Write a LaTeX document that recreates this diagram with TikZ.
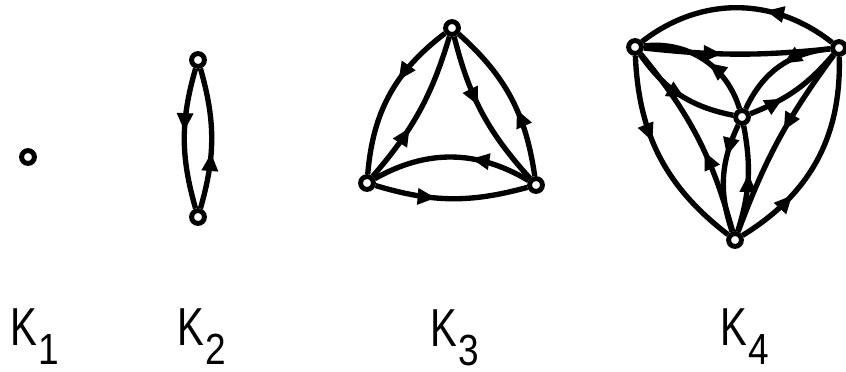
\documentclass[tikz,border=0pt]{standalone}
\usepackage{fontspec}
\setmainfont{Liberation Sans}
\usepackage{graphicx}
\usetikzlibrary{arrows.meta, decorations.markings}

% label K_n: narrow K, lowered index
\newcommand{\klab}[1]{\scalebox{0.75}[1]{K}\kern1pt\raisebox{-14pt}{\fontsize{31}{31}\selectfont\scalebox{0.85}[1]{#1}}}

\begin{document}
\begin{tikzpicture}[
    x=0.025cm, y=0.025cm,
    vertex/.style={
        circle, draw, fill=white, line width=3.5pt,
        minimum size=0.32cm, inner sep=0pt
    },
    edge/.style={line width=3.8pt},
    midarrow/.style={postaction={decorate, decoration={markings,
        mark=at position #1 with {\arrow{Triangle[length=13pt,width=11pt]}}}}},
    midarrow/.default=0.45,
    klabel/.style={anchor=base west, inner sep=0pt, font=\fontsize{38}{38}\selectfont}
]
\useasboundingbox (0,0) rectangle (846,-371);

% K1
\node[vertex] (k1v) at (28,-157) {};

% K2
\node[vertex] (k2top) at (198,-60)  {};
\node[vertex] (k2bot) at (198,-217) {};
\draw[edge, midarrow=0.45] (k2top) to[bend right=16] (k2bot);
\draw[edge, midarrow=0.4]  (k2bot) to[bend right=16] (k2top);

% K3
\node[vertex] (k3top)   at (452,-28)  {};
\node[vertex] (k3left)  at (367,-183) {};
\node[vertex] (k3right) at (536,-185) {};
\draw[edge, midarrow=0.4]  (k3top)   to[bend right=24] (k3left);
\draw[edge, midarrow=0.38] (k3left)  to[bend right=12] (k3top);
\draw[edge, midarrow=0.45] (k3top)   to[bend right=14] (k3right);
\draw[edge, midarrow=0.42] (k3right) to[bend right=20] (k3top);
\draw[edge, midarrow=0.38] (k3right) to[bend right=30] (k3left);
\draw[edge, midarrow=0.4]  (k3left)  to[bend right=16] (k3right);

% K4
\node[vertex] (k4left)  at (635,-47)  {};
\node[vertex] (k4right) at (839,-48)  {};
\node[vertex] (k4mid)   at (742,-117) {};
\node[vertex] (k4bot)   at (735,-240) {};
\draw[edge, midarrow=0.36] (k4right) to[bend right=38] (k4left);
\draw[edge, midarrow=0.42] (k4left)  to[bend right=6]  (k4right);
\draw[edge, midarrow=0.45] (k4mid)   to[bend right=40] (k4left);
\draw[edge, midarrow=0.55] (k4left)  to[bend right=22] (k4mid);
\draw[edge, midarrow=0.45] (k4right) to[bend right=30] (k4mid);
\draw[edge, midarrow=0.35] (k4mid)   to[bend right=14] (k4right);
\draw[edge, midarrow=0.3]  (k4mid)   to[bend right=22] (k4bot);
\draw[edge, midarrow=0.55] (k4bot)   to[bend right=14] (k4mid);
\draw[edge, midarrow=0.42] (k4left)  to[bend right=25] (k4bot);
\draw[edge, midarrow=0.42] (k4bot)   to[bend right=12] (k4left);
\draw[edge, midarrow=0.45] (k4right) to[bend right=8]  (k4bot);
\draw[edge, midarrow=0.3]  (k4bot)   to[bend right=30] (k4right);

% names
\node[klabel] (k1lab) at (10,-345)  {\klab{1}};
\node[klabel] (k2lab) at (177,-345) {\klab{2}};
\node[klabel] (k3lab) at (430,-346) {\klab{3}};
\node[klabel] (k4lab) at (720,-345) {\klab{4}};

\end{tikzpicture}
\end{document}
